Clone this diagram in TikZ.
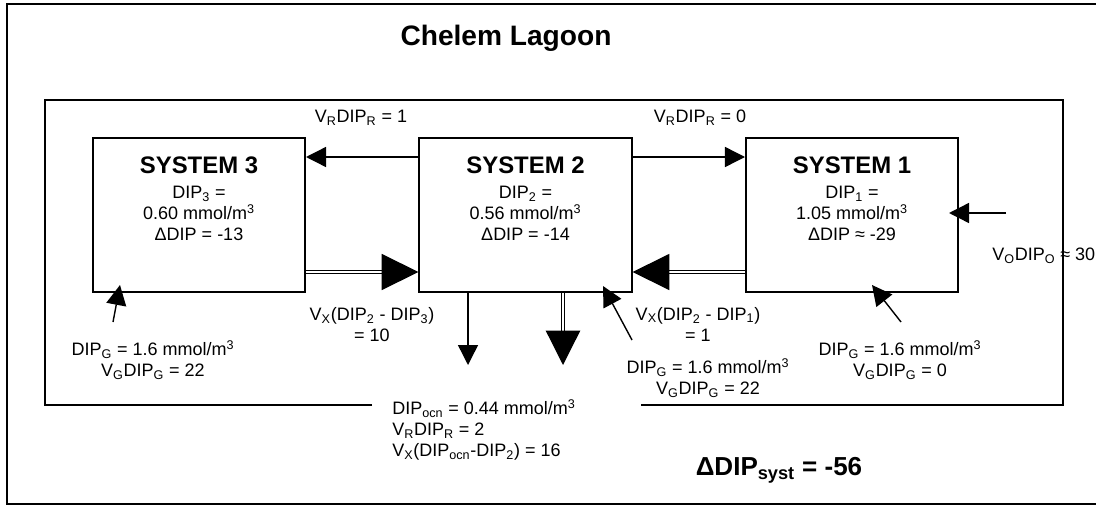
\documentclass[tikz,border=0pt]{standalone}
\usepackage{fontspec}
\setmainfont{Liberation Sans}
\usetikzlibrary{arrows.meta}
\usetikzlibrary{positioning}

\newcommand{\subs}[1]{\textsubscript{#1}}
\newcommand{\sups}[1]{\textsuperscript{#1}}

\tikzset{
  sysbox/.style={draw, line width=1.4pt, minimum width=5.3cm, minimum height=3.85cm, inner sep=0pt},
  systext/.style={align=center, font=\fontsize{12.8}{14.9}\selectfont, inner sep=0pt},
  flux/.style={align=center, font=\fontsize{12.8}{14.9}\selectfont, inner sep=0pt},
  arr/.style={line width=1pt, -{Triangle[length=0.5cm, width=0.5cm]}},
  dbl/.style={double, line width=0.9pt, double distance=1.6pt, -{Triangle[length=0.92cm, width=0.9cm]}},
}

\begin{document}
\begin{tikzpicture}[x=0.025cm, y=-0.025cm]
\useasboundingbox (0,0) rectangle (1096,506);

% frames
\draw[line width=1.1pt] (1110,4) -- (7,4) -- (7,504) -- (1110,504);
\draw[line width=1.1pt] (372,405) -- (45,405) -- (45,100) -- (1063,100) -- (1063,405) -- (641,405);

\node[font=\bfseries\fontsize{20}{24}\selectfont] (title) at (506,38) {Chelem Lagoon};

% the three systems
\node[sysbox] (s3) at (199,215) {};
\node[sysbox] (s2) at (525.5,215) {};
\node[sysbox] (s1) at (852,215) {};
\node[systext] (s3t) at (199,199) {\textbf{\fontsize{17}{20}\selectfont SYSTEM 3}\\[3pt] DIP\subs{3} =\\ 0.60 mmol/m\sups{3}\\ ΔDIP = -13};
\node[systext] (s2t) at (525.5,199) {\textbf{\fontsize{17}{20}\selectfont SYSTEM 2}\\[3pt] DIP\subs{2} =\\ 0.56 mmol/m\sups{3}\\ ΔDIP = -14};
\node[systext] (s1t) at (852,199) {\textbf{\fontsize{17}{20}\selectfont SYSTEM 1}\\[3pt] DIP\subs{1} =\\ 1.05 mmol/m\sups{3}\\ ΔDIP ≈ -29};

\coordinate (rowR) at (0,157);
\coordinate (rowX) at (0,272);
\coordinate (ocn1) at (468,365);
\coordinate (ocn2) at (563,365);
\coordinate (gw3) at (113,322);
\coordinate (gt3) at (120,285);
\coordinate (gw2) at (632,340);
\coordinate (gt2) at (603,286);
\coordinate (gw1) at (901,322);
\coordinate (gt1) at (872,285);
\coordinate (ow) at (1006,213);
\coordinate (ot) at (949,213);

\draw[arr] (s2.west |- rowR) -- (s3.east |- rowR);
\draw[arr] (s2.east |- rowR) -- (s1.west |- rowR);
\draw[dbl] (s3.east |- rowX) -- (s2.west |- rowX);
\draw[dbl] (s1.west |- rowX) -- (s2.east |- rowX);
\draw[arr] (s2.south -| ocn1) -- (ocn1);
\draw[dbl, -{Triangle[length=0.86cm, width=0.86cm]}] (s2.south -| ocn2) -- (ocn2);
\foreach \i in {3,2,1}
  \draw[arr] (gw\i) -- (gt\i);
\draw[arr] (ow) -- (ot);

% fluxes
\node[flux] (vr3) at (361,118) {V\subs{R}DIP\subs{R} = 1};
\node[flux] (vr1) at (700,118) {V\subs{R}DIP\subs{R} = 0};
\node[flux] (vx3) at (372,325) {V\subs{X}(DIP\subs{2} - DIP\subs{3})\\ = 10};
\node[flux] (vx1) at (698,324) {V\subs{X}(DIP\subs{2} - DIP\subs{1})\\ = 1};
\node[flux] (g3) at (153,360) {DIP\subs{G} = 1.6 mmol/m\sups{3}\\ V\subs{G}DIP\subs{G} = 22};
\node[flux] (g2) at (708,378) {DIP\subs{G} = 1.6 mmol/m\sups{3}\\ V\subs{G}DIP\subs{G} = 22};
\node[flux] (g1) at (900,360) {DIP\subs{G} = 1.6 mmol/m\sups{3}\\ V\subs{G}DIP\subs{G} = 0};
\node[flux, align=left, anchor=west] (ocn) at (392,430) {DIP\subs{ocn} = 0.44 mmol/m\sups{3}\\ V\subs{R}DIP\subs{R} = 2\\ V\subs{X}(DIP\subs{ocn}-DIP\subs{2}) = 16};
\node[flux, anchor=west] (vo) at (992,256) {V\subs{O}DIP\subs{O} ≈ 30};
\node[font=\bfseries\fontsize{18.5}{22}\selectfont, inner sep=0pt] (syst) at (779,470) {ΔDIP\subs{syst} = -56};

\end{tikzpicture}
\end{document}
